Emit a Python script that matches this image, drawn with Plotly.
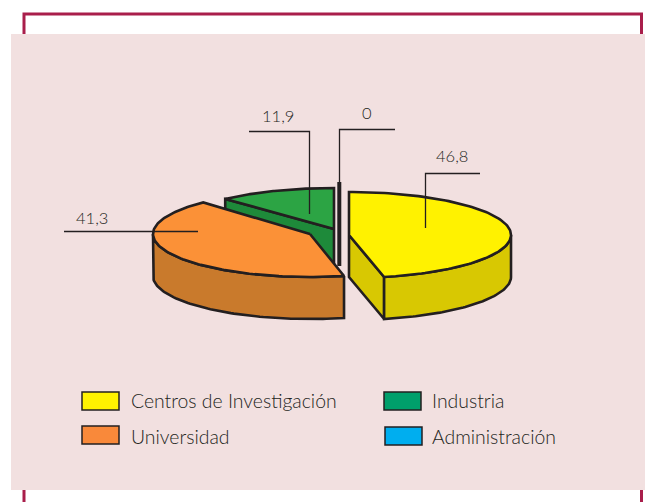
import numpy as np
import plotly.graph_objects as go

# ---- data ----
categories = ["Centros de Investigación", "Universidad", "Industria", "Administración"]
values = [46.8, 41.3, 11.9, 0]
top_colors = ["#FFF200", "#FB9137", "#2CA444", "#00AEEF"]
side_colors = ["#D8C802", "#C97A2C", "#1E8A3A", "#0088BB"]
legend_colors = ["#FFF200", "#F9893A", "#009F6B", "#00AEEF"]

# ---- pie layout (exploded slices; pixel space) ----
centers = [(349, 235), (310, 234), (334, 229), (339.3, 224)]
RX = [162, 157, 160, 160]
RY = [43, 43, 41, 42]
DEPTH = 42
SEAM_SHIFT = -1.0  # drawn seam between the two front slices, in degrees
STROKE = "#231F20"
TEXT = "#231F20"

W, H = 645, 502
fig = go.Figure()


def pt(c, rx, ry, a):
    r = np.radians(a)
    return c[0] + rx * np.sin(r), c[1] - ry * np.cos(r)


def poly(xs, ys, fill, width=2.6):
    fig.add_trace(go.Scatter(x=list(xs), y=list(ys), mode="lines", fill="toself",
                             fillcolor=fill, line=dict(color=STROKE, width=width),
                             hoverinfo="skip", showlegend=False))


def draw_slice(i, a0, a1):
    c, rx, ry = centers[i], RX[i], RY[i]
    top, side = top_colors[i], side_colors[i]
    # cut face at the start/end of the slice that faces the viewer
    for a in (a0, a1):
        if 90 < a % 360 <= 180 and i == 0 and a == a1 or (a % 360 > 270 and a == a0):
            px, py = pt(c, rx, ry, a)
            poly([c[0], px, px, c[0], c[0]], [c[1], py, py + DEPTH, c[1] + DEPTH, c[1]], side)
    # outer wall (only the part of the rim that faces the viewer)
    lo, hi = max(a0, 90), min(a1, 270)
    if hi > lo:
        t = np.linspace(lo, hi, 80)
        xs, ys = pt(c, rx, ry, t)
        poly(np.r_[xs, xs[::-1], xs[0]], np.r_[ys, ys[::-1] + DEPTH, ys[0]], side)
    # top surface
    t = np.linspace(a0, a1, 120)
    xs, ys = pt(c, rx, ry, t)
    poly(np.r_[c[0], xs, c[0]], np.r_[c[1], ys, c[1]], top)


angles = np.r_[0, np.cumsum(values)] * 360 / sum(values)
angles[1] += SEAM_SHIFT

# back to front: Administración, Industria, Universidad, Centros
# the zero-valued slice collapses to its cut face, seen edge on
c3 = centers[3]
fig.add_trace(go.Scatter(x=[c3[0], c3[0]], y=[c3[1] - RY[3], c3[1] + DEPTH], mode="lines",
                         line=dict(color=STROKE, width=4), hoverinfo="skip", showlegend=False))
draw_slice(2, angles[2], angles[3])
draw_slice(1, angles[1], angles[2])
draw_slice(0, angles[0], angles[1])

# leader lines and value labels
leaders = [
    ([425.5, 425.5, 480], [228, 173.5, 173.5], (452, 156)),
    ([198, 64], [231.5, 231.5], (92, 218)),
    ([309.5, 309.5, 249], [214, 131.5, 131.5], (278, 116)),
    ([339.5, 339.5, 395], [182, 129.5, 129.5], (367, 113)),
]
annotations = []
for v, (lx, ly, lab) in zip(values, leaders):
    fig.add_trace(go.Scatter(x=lx, y=ly, mode="lines", line=dict(color=STROKE, width=1.3),
                             hoverinfo="skip", showlegend=False))
    annotations.append(dict(x=lab[0], y=lab[1], text=f"{v}".replace(".", ","), showarrow=False,
                            xanchor="center", yanchor="middle",
                            font=dict(family="Lato", size=16.5, color=TEXT, weight=300)))

# legend
legend_pos = [(82, 392), (82, 426), (384, 392), (385, 427)]
legend_text_y = [400.5, 436.5, 400.5, 436.5]
shapes = [
    dict(type="rect", x0=24, x1=641.5, y0=14, y1=520, line=dict(color="#A91E4B", width=3),
         fillcolor="white", layer="below"),
    dict(type="rect", x0=11, x1=650, y0=34, y1=490, line=dict(width=0),
         fillcolor="#F2E0E0", layer="below"),
]
for name, col, (x, y), ty in zip(categories, legend_colors, legend_pos, legend_text_y):
    shapes.append(dict(type="rect", x0=x, x1=x + 37, y0=y, y1=y + 18, fillcolor=col,
                       line=dict(color=STROKE, width=1.5)))
    annotations.append(dict(x=(129 if x < 200 else 430), y=ty, text=name, showarrow=False,
                            xanchor="left", yanchor="middle",
                            font=dict(family="Lato", size=19.4, color=TEXT, weight=300)))

fig.update_layout(
    width=W, height=H, margin=dict(l=0, r=0, t=0, b=0), autosize=False,
    paper_bgcolor="white", plot_bgcolor="rgba(0,0,0,0)",
    xaxis=dict(range=[0, W], visible=False, fixedrange=True),
    yaxis=dict(range=[H, 0], visible=False, fixedrange=True),
    shapes=shapes, annotations=annotations, showlegend=False,
)
fig.write_html("out.html", config=dict(displayModeBar=False),
               post_script="document.body.style.margin='0';document.body.style.overflow='hidden';")
